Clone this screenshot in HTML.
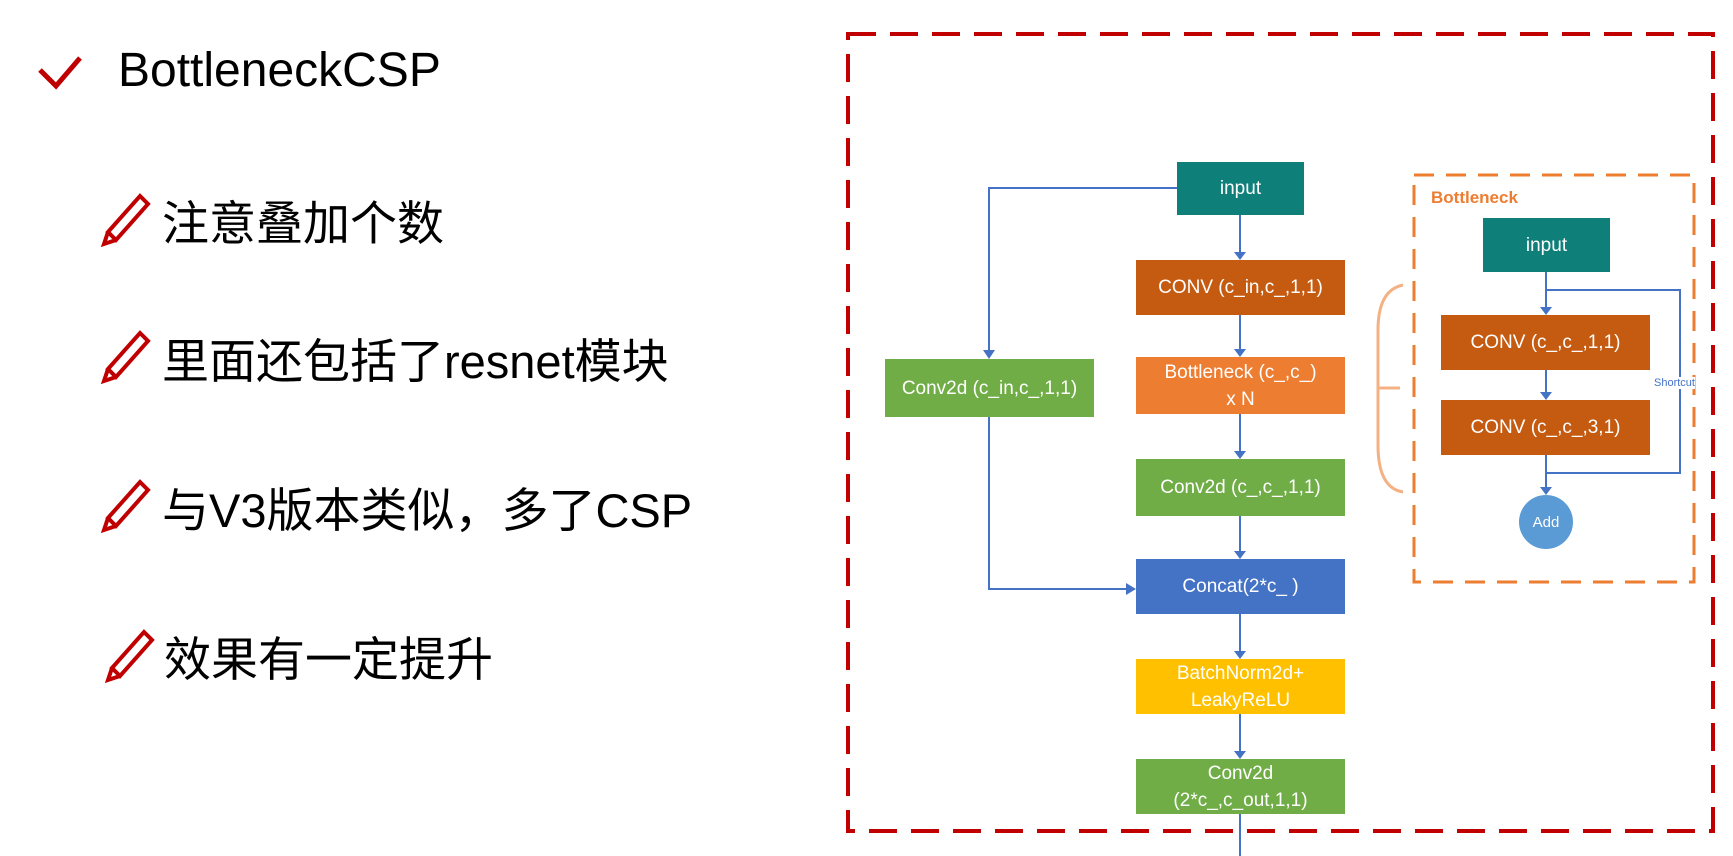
<!DOCTYPE html>
<html><head><meta charset="utf-8"><style>
body{margin:0;width:1733px;height:856px;background:#fff;position:relative;overflow:hidden;font-family:"Liberation Sans","Noto Sans CJK SC",sans-serif}
.t{position:absolute;color:#000;white-space:nowrap}
.b{position:absolute;color:#fff;font-size:19px;display:flex;align-items:center;justify-content:center;text-align:center;line-height:27px}
</style></head><body>
<svg style="position:absolute;left:0;top:0" width="1733" height="856">
<polyline points="40,70 56,86 80,58" fill="none" stroke="#c00000" stroke-width="5"/>
<g fill="none" stroke="#c00000" stroke-width="4">
<path d="M108 232 L140 196 L148 204 L116 240 Z M108 232 L104 244 L116 240"/>
<path d="M108 369 L140 333 L148 341 L116 377 Z M108 369 L104 381 L116 377"/>
<path d="M108 518 L140 482 L148 490 L116 526 Z M108 518 L104 530 L116 526"/>
<path d="M112 668 L144 632 L152 640 L120 676 Z M112 668 L108 680 L120 676"/>
</g>
<rect x="848" y="34" width="865" height="797" fill="none" stroke="#c00000" stroke-width="4" stroke-dasharray="28,14"/>
<rect x="1414" y="175" width="280" height="407" fill="none" stroke="#ed7d31" stroke-width="3" stroke-dasharray="20,12"/>
<path d="M1403 285 Q1378 290 1378 330 L1378 445 Q1378 488 1403 492 M1378 388 L1400 388" fill="none" stroke="#f4b183" stroke-width="3"/>
<g stroke="#4472c4" stroke-width="2" fill="none">
<polyline points="1177,188 989,188 989,352"/>
<polyline points="989,417 989,589 1128,589"/>
<line x1="1240" y1="215" x2="1240" y2="253"/>
<line x1="1240" y1="315" x2="1240" y2="350"/>
<line x1="1240" y1="414" x2="1240" y2="452"/>
<line x1="1240" y1="516" x2="1240" y2="552"/>
<line x1="1240" y1="614" x2="1240" y2="652"/>
<line x1="1240" y1="714" x2="1240" y2="752"/>
<line x1="1240" y1="814" x2="1240" y2="856"/>
<line x1="1546" y1="272" x2="1546" y2="309"/>
<line x1="1546" y1="370" x2="1546" y2="394"/>
<line x1="1546" y1="455" x2="1546" y2="489"/>
<polyline points="1546,290 1680,290 1680,473 1546,473"/>
</g>
<g fill="#4472c4">
<path d="M983 350 L995 350 L989 359Z"/><path d="M1126 583 L1136 589 L1126 595Z"/>
<path d="M1234 252 L1246 252 L1240 260Z"/><path d="M1234 349 L1246 349 L1240 357Z"/>
<path d="M1234 451 L1246 451 L1240 459Z"/><path d="M1234 551 L1246 551 L1240 559Z"/>
<path d="M1234 651 L1246 651 L1240 659Z"/><path d="M1234 751 L1246 751 L1240 759Z"/>
<path d="M1540 307 L1552 307 L1546 315Z"/><path d="M1540 392 L1552 392 L1546 400Z"/>
<path d="M1540 487 L1552 487 L1546 495Z"/>
</g>
<circle cx="1546" cy="522" r="27" fill="#5b9bd5"/>
</svg>
<div class="t" style="left:118px;top:43px;font-size:48px">BottleneckCSP</div>
<div class="t" style="left:162px;top:185px;font-size:47px">注意叠加个数</div>
<div class="t" style="left:162px;top:323px;font-size:47px">里面还包括了resnet模块</div>
<div class="t" style="left:162px;top:472px;font-size:47px">与V3版本类似，多了CSP</div>
<div class="t" style="left:164px;top:621px;font-size:47px">效果有一定提升</div>
<div class="b" style="left:1177px;top:162px;width:127px;height:53px;background:#0f7f7a">input</div>
<div class="b" style="left:1136px;top:260px;width:209px;height:55px;background:#c55a11">CONV (c_in,c_,1,1)</div>
<div class="b" style="left:1136px;top:357px;width:209px;height:57px;background:#ed7d31">Bottleneck (c_,c_)<br>x N</div>
<div class="b" style="left:1136px;top:459px;width:209px;height:57px;background:#70ad47">Conv2d (c_,c_,1,1)</div>
<div class="b" style="left:1136px;top:559px;width:209px;height:55px;background:#4472c4">Concat(2*c_ )</div>
<div class="b" style="left:1136px;top:659px;width:209px;height:55px;background:#ffc000">BatchNorm2d+<br>LeakyReLU</div>
<div class="b" style="left:1136px;top:759px;width:209px;height:55px;background:#70ad47">Conv2d<br>(2*c_,c_out,1,1)</div>
<div class="b" style="left:885px;top:359px;width:209px;height:58px;background:#70ad47">Conv2d (c_in,c_,1,1)</div>
<div class="t" style="left:1431px;top:188px;font-size:17px;font-weight:bold;color:#ed7d31">Bottleneck</div>
<div class="b" style="left:1483px;top:218px;width:127px;height:54px;background:#0f7f7a">input</div>
<div class="b" style="left:1441px;top:315px;width:209px;height:55px;background:#c55a11">CONV (c_,c_,1,1)</div>
<div class="b" style="left:1441px;top:400px;width:209px;height:55px;background:#c55a11">CONV (c_,c_,3,1)</div>
<div class="b" style="left:1519px;top:495px;width:54px;height:54px;font-size:15px">Add</div>
<div class="t" style="left:1654px;top:377px;font-size:11px;color:#4472c4;background:#fff">Shortcut</div>
</body></html>
